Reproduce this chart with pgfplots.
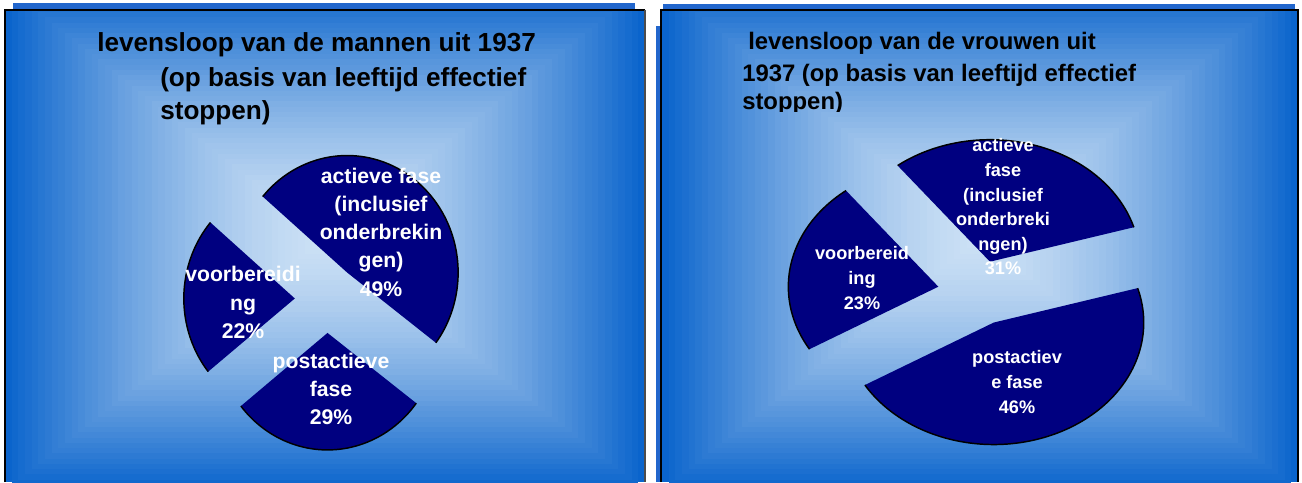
\documentclass[border=0pt]{standalone}
\usepackage{pgfplots}
\pgfplotsset{compat=1.18}
\usepackage{pgfplotstable}
\usepackage{fontspec}
\setmainfont{Liberation Sans}
\definecolor{bgout}{RGB}{10,100,204}
\definecolor{bgin}{RGB}{205,225,245}
\definecolor{piefill}{RGB}{0,0,128}
\definecolor{stripblue}{RGB}{34,102,204}

% shares (percent), clockwise order as in the charts
\pgfplotstableread{
label pct
actieve 49
postactieve 29
voorbereiding 22
}\mannen
\pgfplotstableread{
label pct
actieve 31
postactieve 46
voorbereiding 23
}\vrouwen

% rectangular stepped gradient: x0 y0 x1 y1 cx cy hw hh
\newcommand\gradpanel[8]{%
 \begin{scope}
 \clip (#1,#2) rectangle (#3,#4);
 \fill[bgout] (#1,#2) rectangle (#3,#4);
 \foreach \i in {1,...,47}{%
   \pgfmathsetmacro\gt{1-\i/48}%
   \pgfmathtruncatemacro\gp{100*(1-\gt^1.5)}%
   \fill[bgin!\gp!bgout] ({#5-#7*\gt},{#6-#8*\gt}) rectangle ({#5+#7*\gt},{#6+#8*\gt});
 }
 \end{scope}}

% pie slice: cx cy rx ry a_low a_high explode
\newcommand\pieslice[7]{%
 \pgfmathsetmacro\pmid{(#5+#6)/2}%
 \pgfmathsetmacro\pvx{#1+#7*#3*cos(\pmid)}%
 \pgfmathsetmacro\pvy{#2-#7*#4*sin(\pmid)}%
 \edef\pcmd{\noexpand\addplot[fill=piefill, draw=none, domain=#5:#6, samples=100]
   ({\pvx+#3*cos(x)}, {\pvy-#4*sin(x)}) -- (axis cs:\pvx,\pvy) -- cycle;
   \noexpand\addplot[draw=black, line width=1.1pt, domain=#5:#6, samples=100]
   ({\pvx+#3*cos(x)}, {\pvy-#4*sin(x)});}%
 \pcmd}

\begin{document}
\begin{tikzpicture}
\pgfplotstablegetelem{0}{pct}\of\mannen \edef\mA{\pgfplotsretval}
\pgfplotstablegetelem{1}{pct}\of\mannen \edef\mB{\pgfplotsretval}
\pgfplotstablegetelem{2}{pct}\of\mannen \edef\mC{\pgfplotsretval}
\pgfplotstablegetelem{0}{pct}\of\vrouwen \edef\vA{\pgfplotsretval}
\pgfplotstablegetelem{1}{pct}\of\vrouwen \edef\vB{\pgfplotsretval}
\pgfplotstablegetelem{2}{pct}\of\vrouwen \edef\vC{\pgfplotsretval}
\pgfmathsetmacro\msA{139.5}
\pgfmathsetmacro\msB{\msA-3.6*\mA}
\pgfmathsetmacro\msC{\msB-3.6*\mB}
\pgfmathsetmacro\msD{\msC-3.6*\mC}
\pgfmathsetmacro\vsA{128}
\pgfmathsetmacro\vsB{\vsA-3.6*\vA}
\pgfmathsetmacro\vsC{\vsB-3.6*\vB}
\pgfmathsetmacro\vsD{\vsC-3.6*\vC}
\begin{scope}[x=0.75pt,y=-0.75pt,shift={(0pt,361.5pt)}]
 % panels
 \fill[stripblue] (13,3) rectangle (635,10);
 \fill[stripblue] (663,4) rectangle (1295,10);
 \fill[stripblue] (656,26) rectangle (661,482);
 \gradpanel{5}{10}{645}{482}{325}{238}{320}{252}
 \gradpanel{661}{10}{1298}{482}{980}{238}{318}{252}
 \draw[black, line width=1.5pt] (5,482) -- (5,10) -- (645,10);
 \draw[black!70, line width=1pt] (645,10) -- (645,482);
 \draw[black, line width=1.5pt] (661,482) -- (661,10) -- (1298,10) -- (1298,482);
 % titles
 \begin{scope}[font=\fontsize{19.6}{25}\selectfont\bfseries]
 \node[anchor=base west, inner sep=0pt] at (97,52) {levensloop van de mannen uit 1937};
 \node[anchor=base west, inner sep=0pt] at (160,86.5) {(op basis van leeftijd effectief};
 \node[anchor=base west, inner sep=0pt] at (160,119.5) {stoppen)};
 \end{scope}
 \begin{scope}[font=\fontsize{17.9}{23}\selectfont\bfseries]
 \node[anchor=base west, inner sep=0pt] at (748,50) {levensloop van de vrouwen uit};
 \node[anchor=base west, inner sep=0pt] at (742,81.5) {1937 (op basis van leeftijd effectief};
 \begin{scope}
 \clip (700,90) rectangle (1200,112);
 \node[anchor=base west, inner sep=0pt] at (742,110) {stoppen)};
 \end{scope}
 \end{scope}
\end{scope}
\begin{axis}[at={(0pt,0pt)}, anchor=south west, x=0.75pt, y=0.75pt,
  scale only axis, hide axis, clip=false, y dir=reverse,
  xmin=0, xmax=1302, ymin=0, ymax=482]
 % mannen
 \pieslice{327}{299}{111}{117}{\msB}{\msA}{0.29}
 \pieslice{327}{299}{111}{117}{\msC}{\msB}{0.29}
 \pieslice{327}{299}{111}{117}{\msD}{\msC}{0.29}
 % vrouwen
 \pieslice{977.7}{292.7}{150}{122}{\vsB}{\vsA}{0.267}
 \pieslice{977.7}{292.7}{150}{122}{\vsC}{\vsB}{0.267}
 \pieslice{977.7}{292.7}{150}{122}{\vsD}{\vsC}{0.267}
 % labels
 \begin{scope}[every node/.style={text=white, align=center, inner sep=0pt,
    font=\fontsize{15.9}{21.2}\selectfont\bfseries}]
 \node at (axis cs:381,232) {actieve fase\\(inclusief\\onderbrekin\\gen)\\49\%};
 \node at (axis cs:243,302.5) {voorbereidi\\ng\\22\%};
 \node at (axis cs:331,389) {postactieve\\fase\\29\%};
 \end{scope}
 \begin{scope}[every node/.style={text=white, align=center, inner sep=0pt,
    font=\fontsize{13.6}{18.45}\selectfont\bfseries}]
 \node at (axis cs:1003,207) {actieve\\fase\\(inclusief\\onderbreki\\ngen)\\31\%};
 \node at (axis cs:862,278) {voorbereid\\ing\\23\%};
 \node at (axis cs:1017,382) {postactiev\\e fase\\46\%};
 \end{scope}
\end{axis}
\pgfresetboundingbox
\path[use as bounding box] (0pt,0pt) rectangle (976.5pt,361.5pt);
\end{tikzpicture}
\end{document}
